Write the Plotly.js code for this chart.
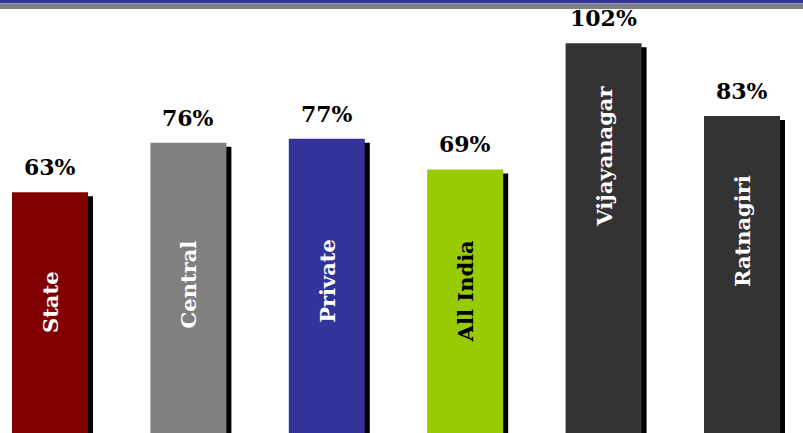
<!DOCTYPE html>
<html>
<head>
<meta charset="utf-8">
<script src="https://cdn.plot.ly/plotly-3.0.1.min.js"></script>
<style>html,body{margin:0;padding:0;background:#fff;}#chart{width:803px;height:433px;}</style>
</head>
<body>
<div id="chart"></div>
<script>
// ---- data ----
const categories = ["State", "Central", "Private", "All India", "Vijayanagar", "Ratnagiri"];
const values = [63, 76, 77, 69, 102, 83];
const valueLabels = ["63%", "76%", "77%", "69%", "102%", "83%"];
const barColors = ["#800000", "#808080", "#333399", "#99cc00", "#333333", "#333333"];
const nameColors = ["#ffffff", "#ffffff", "#ffffff", "#000000", "#ffffff", "#ffffff"];

// ---- layout constants ----
const W = 803, H = 433;
const pxPerUnitY = 3.82;          // pixels per percentage point
const pxPerCat = 138.4;           // pixels between bar centres
const firstCentre = 50;           // px of first bar centre
const barWidth = 76 / pxPerCat;
const shadowDx = 5 / pxPerCat;
const shadowDy = 4 / pxPerUnitY;
const yMax = H / pxPerUnitY;
const xMin = -firstCentre / pxPerCat;
const xMax = xMin + W / pxPerCat;
// vertical centres (px from top) of the rotated names inside the bars
const nameCentrePx = [302, 284, 281, 291, 156, 231];

const font = "DejaVu Serif, Liberation Serif, serif";

const shadow = {
  type: "bar", x: categories, y: values, base: -shadowDy,
  width: barWidth, offset: -barWidth / 2 + shadowDx,
  marker: {color: "#000000", line: {width: 0}},
  hoverinfo: "skip", showlegend: false
};
const bars = {
  type: "bar", x: categories, y: values,
  width: barWidth,
  marker: {color: barColors, line: {width: 0}},
  showlegend: false
};

const annotations = [];
categories.forEach((c, i) => {
  annotations.push({
    x: c, y: values[i], xref: "x", yref: "y",
    text: valueLabels[i], showarrow: false,
    yanchor: "bottom", yshift: 10,
    font: {family: font, size: 22, color: "#000000", weight: "bold"}
  });
  annotations.push({
    x: c, y: (H - nameCentrePx[i]) / pxPerUnitY, xref: "x", yref: "y",
    text: c, showarrow: false, textangle: -90,
    xanchor: "center", yanchor: "middle",
    font: {family: font, size: 21, color: nameColors[i], weight: "bold"}
  });
});

const layout = {
  width: W, height: H,
  margin: {l: 0, r: 0, t: 0, b: 0, pad: 0},
  paper_bgcolor: "#ffffff", plot_bgcolor: "#ffffff",
  barmode: "overlay",
  xaxis: {range: [xMin, xMax], visible: false, fixedrange: true},
  yaxis: {range: [0, yMax], visible: false, fixedrange: true},
  annotations: annotations,
  shapes: [
    {type: "rect", xref: "paper", yref: "paper", x0: 0, x1: 1, y0: 1 - 9 / H, y1: 1 - 4 / H, fillcolor: "#808080", line: {width: 0}, layer: "above"},
    {type: "rect", xref: "paper", yref: "paper", x0: 0, x1: 1, y0: 1 - 4 / H, y1: 1 - 3 / H, fillcolor: "#9999cc", line: {width: 0}, layer: "above"},
    {type: "rect", xref: "paper", yref: "paper", x0: 0, x1: 1, y0: 1 - 3 / H, y1: 1, fillcolor: "#333399", line: {width: 0}, layer: "above"}
  ]
};

Plotly.newPlot("chart", [shadow, bars], layout, {displayModeBar: false, staticPlot: true});
</script>
</body>
</html>
